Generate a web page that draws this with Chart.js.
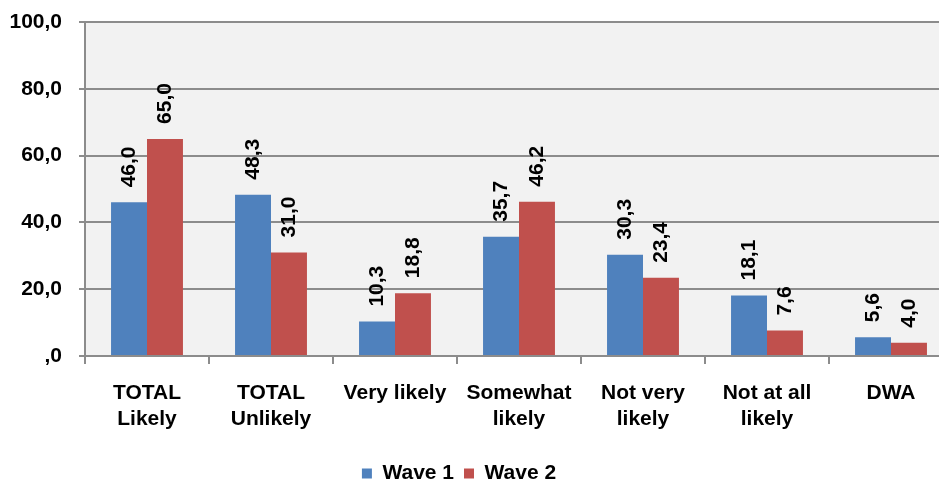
<!DOCTYPE html>
<html>
<head>
<meta charset="utf-8">
<script src="https://cdn.jsdelivr.net/npm/chart.js@4/dist/chart.umd.min.js"></script>
<style>
  html, body { margin: 0; padding: 0; background: #ffffff; overflow: hidden; width: 939px; height: 485px; }
  #wrap { position: absolute; left: -35px; top: 0; width: 995px; height: 494px; }
</style>
</head>
<body>
<div id="wrap"><canvas id="chart" width="995" height="494"></canvas></div>
<script>
// Survey answers by wave (percent)
const categories = [
  ['TOTAL', 'Likely'],
  ['TOTAL', 'Unlikely'],
  'Very likely',
  ['Somewhat', 'likely'],
  ['Not very', 'likely'],
  ['Not at all', 'likely'],
  'DWA'
];
const wave1 = [46.0, 48.3, 10.3, 35.7, 30.3, 18.1, 5.6];
const wave2 = [65.0, 31.0, 18.8, 46.2, 23.4, 7.6, 4.0];
const seriesNames = ['Wave 1', 'Wave 2'];
const yTickLabels = [',0', '20,0', '40,0', '60,0', '80,0', '100,0'];

const FONT = '"Liberation Sans", Arial, sans-serif';
const fmt = v => {
  const s = v.toFixed(1).replace('.', ',');
  return s.startsWith('0,') ? s.slice(1) : s;
};

// Light grey plot background
const plotBackground = {
  id: 'plotBackground',
  beforeDraw(chart) {
    const { ctx, chartArea: a } = chart;
    ctx.save();
    ctx.fillStyle = '#F2F2F2';
    ctx.fillRect(a.left, a.top, a.right - a.left, a.bottom - a.top);
    ctx.restore();
  }
};

// Vertical value labels above each bar
const barValueLabels = {
  id: 'barValueLabels',
  afterDatasetsDraw(chart) {
    const { ctx } = chart;
    ctx.save();
    ctx.font = 'bold 21px ' + FONT;
    ctx.fillStyle = '#000000';
    ctx.textAlign = 'left';
    ctx.textBaseline = 'middle';
    chart.data.datasets.forEach((ds, di) => {
      chart.getDatasetMeta(di).data.forEach((bar, i) => {
        ctx.save();
        ctx.translate(bar.x, bar.y - 15);
        ctx.rotate(-Math.PI / 2);
        ctx.fillText(fmt(ds.data[i]), 0, 0);
        ctx.restore();
      });
    });
    ctx.restore();
  }
};

new Chart(document.getElementById('chart'), {
  type: 'bar',
  data: {
    labels: categories,
    datasets: [
      { label: seriesNames[0], data: wave1, backgroundColor: '#4F81BD' },
      { label: seriesNames[1], data: wave2, backgroundColor: '#C0504D' }
    ]
  },
  options: {
    responsive: false,
    animation: false,
    events: [],
    layout: { padding: { top: 22, right: 7, left: 0, bottom: 0 } },
    datasets: { bar: { categoryPercentage: 0.58, barPercentage: 1.0 } },
    scales: {
      x: {
        offset: true,
        grid: {
          offset: true,
          drawOnChartArea: false,
          drawTicks: true,
          tickLength: 8,
          color: '#8C8C8C',
          lineWidth: 2
        },
        border: { display: true, color: '#8C8C8C', width: 2 },
        ticks: {
          color: '#000000',
          font: { family: FONT, size: 21, weight: 'bold', lineHeight: 1.25 },
          padding: 16,
          maxRotation: 0,
          autoSkip: false
        },
        afterFit(scale) {
          scale.height = 97;
          scale.paddingLeft = 0;
          scale.paddingRight = 0;
        }
      },
      y: {
        min: 0,
        max: 100,
        ticks: {
          stepSize: 20,
          color: '#000000',
          font: { family: FONT, size: 21, weight: 'bold' },
          padding: 17,
          callback: (v) => yTickLabels[Math.round(v / 20)]
        },
        grid: {
          color: '#8C8C8C',
          lineWidth: 2,
          drawTicks: true,
          tickLength: 6
        },
        border: { display: true, color: '#8C8C8C', width: 2 },
        afterFit(scale) {
          scale.width = 120;
          scale.paddingTop = 0;
          scale.paddingBottom = 0;
        }
      }
    },
    plugins: {
      legend: {
        position: 'bottom',
        labels: {
          boxWidth: 10,
          boxHeight: 10,
          padding: 10,
          color: '#000000',
          font: { family: FONT, size: 21, weight: 'bold' }
        }
      },
      tooltip: { enabled: false },
      title: { display: false }
    }
  },
  plugins: [plotBackground, barValueLabels]
});
</script>
</body>
</html>
